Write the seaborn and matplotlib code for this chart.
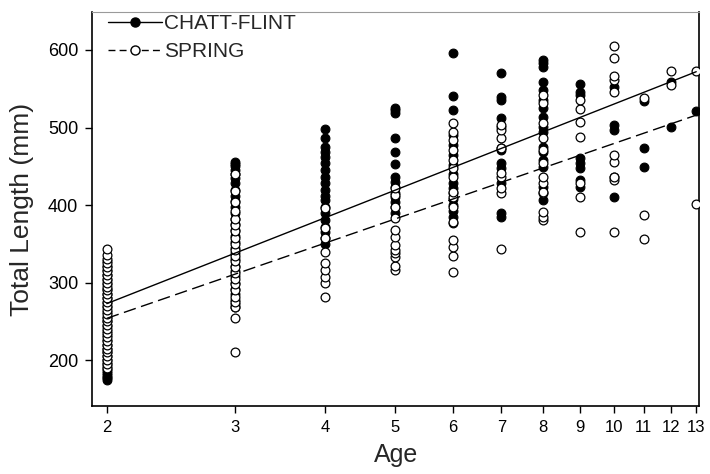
import matplotlib
matplotlib.use("Agg")
import matplotlib.pyplot as plt
import matplotlib.ticker as mticker
from matplotlib.lines import Line2D
import seaborn as sns
import pandas as pd

# Total length (mm) by age for each population
chatt_flint = {
    2: [175, 177, 179, 181, 183, 186, 189, 192, 196, 200, 205, 210, 215, 220, 226, 232,
        238, 244, 250, 256, 262, 268, 274, 280, 286, 292, 298, 304, 310, 316, 322, 328],
    3: [268, 272, 278, 285, 292, 300, 308, 315, 322, 330, 338, 345, 352, 360, 368, 375,
        382, 390, 398, 405, 412, 420, 428, 435, 440, 445, 450, 453, 455],
    4: [350, 358, 365, 372, 381, 390, 398, 406, 412, 419, 428, 436, 445, 454, 462, 468,
        475, 486, 498],
    5: [390, 397, 404, 410, 415, 423, 430, 436, 453, 468, 486, 519, 522, 525],
    6: [377, 385, 392, 400, 408, 415, 422, 428, 440, 452, 465, 478, 490, 522, 541, 596],
    7: [385, 390, 428, 448, 454, 471, 474, 501, 512, 535, 539, 570],
    8: [406, 423, 449, 458, 468, 475, 494, 501, 514, 525, 535, 548, 559, 578, 583, 587],
    9: [423, 432, 448, 454, 461, 542, 546, 556],
    10: [410, 436, 497, 503, 552],
    11: [449, 474, 534],
    12: [501, 559],
    13: [521],
}
spring = {
    2: [190, 195, 200, 205, 210, 215, 220, 225, 230, 235, 240, 245, 250, 255, 260, 265,
        270, 275, 280, 285, 290, 295, 300, 305, 310, 315, 320, 325, 330, 336, 343],
    3: [211, 255, 268, 275, 282, 290, 298, 305, 312, 320, 328, 335, 342, 350, 358, 366,
        374, 382, 392, 404, 418, 440],
    4: [281, 300, 307, 316, 326, 339, 357, 370, 396],
    5: [316, 322, 333, 338, 342, 348, 359, 368, 383, 397, 413, 422],
    6: [314, 335, 346, 355, 378, 397, 410, 417, 436, 448, 458, 471, 484, 494, 506],
    7: [343, 415, 422, 436, 441, 474, 486, 497, 503],
    8: [381, 385, 391, 415, 417, 428, 436, 454, 471, 486, 506, 532, 542],
    9: [365, 410, 428, 488, 507, 524, 535],
    10: [365, 433, 436, 455, 464, 546, 561, 566, 590, 605],
    11: [356, 387, 538],
    12: [555, 573],
    13: [401, 573],
}

# Fitted length-at-age lines (log age), end values at ages 2 and 13
fit_ages = [2, 13]
chatt_fit = [273, 572]
spring_fit = [254, 516]

age_ticks = [2, 3, 4, 5, 6, 7, 8, 9, 10, 11, 12, 13]
length_ticks = [200, 300, 400, 500, 600]


def to_frame(d):
    rows = [(age, v) for age, vals in d.items() for v in vals]
    return pd.DataFrame(rows, columns=["Age", "Length"])


cf_df = to_frame(chatt_flint)
sp_df = to_frame(spring)
fit_df = pd.DataFrame({"Age": fit_ages, "CF": chatt_fit, "SP": spring_fit})

sns.set_theme(style="ticks")
plt.rcParams["font.family"] = ["Liberation Sans", "DejaVu Sans"]

fig = plt.figure(figsize=(7.10, 4.74), dpi=100)
ax = fig.add_axes([0.1296, 0.1435, 0.8554, 0.8312])
ax.set_xscale("log")

sns.scatterplot(data=cf_df, x="Age", y="Length", ax=ax, marker="o", s=40,
                color="black", edgecolor="black", linewidth=0.8, zorder=3, legend=False)
sns.scatterplot(data=sp_df, x="Age", y="Length", ax=ax, marker="o", s=40,
                color="white", edgecolor="black", linewidth=0.9, zorder=4, legend=False)
sns.lineplot(data=fit_df, x="Age", y="CF", ax=ax, color="black", linewidth=1.0, zorder=5)
sns.lineplot(data=fit_df, x="Age", y="SP", ax=ax, color="black", linewidth=1.0,
             dashes=False, zorder=5)
ax.lines[-1].set_dashes([9, 4])

ax.set_xlim(1.908, 13.13)
ax.set_ylim(141, 649)
ax.xaxis.set_major_locator(mticker.FixedLocator(age_ticks))
ax.xaxis.set_major_formatter(mticker.FixedFormatter([str(a) for a in age_ticks]))
ax.xaxis.set_minor_locator(mticker.NullLocator())
ax.set_yticks(length_ticks)

ax.tick_params(axis="both", direction="out", length=5, width=1,
               colors="black", pad=5)
ax.tick_params(axis="x", labelsize=12)
ax.tick_params(axis="y", labelsize=13)
for side in ["left", "bottom", "right"]:
    ax.spines[side].set_color("black")
    ax.spines[side].set_linewidth(1.2)
ax.spines["top"].set_color("#9a9a9a")
ax.spines["top"].set_linewidth(0.8)

ax.set_xlabel("Age", fontsize=18, labelpad=6)
ax.set_ylabel("Total Length (mm)", fontsize=19, labelpad=10)

handles = [
    Line2D([0], [0], color="black", lw=1.0, marker="o", markersize=6.5,
           markerfacecolor="black", markeredgecolor="black"),
    Line2D([0], [0], color="black", lw=1.0, dashes=[5, 3], marker="o", markersize=6.5,
           markerfacecolor="white", markeredgecolor="black"),
]
ax.legend(handles, ["CHATT-FLINT", "SPRING"], loc="upper left", frameon=False,
          fontsize=15, handlelength=2.6, handletextpad=0.1, borderaxespad=0.0,
          labelspacing=0.45, bbox_to_anchor=(0.012, 1.016))

fig.savefig("out.png", dpi=100)
